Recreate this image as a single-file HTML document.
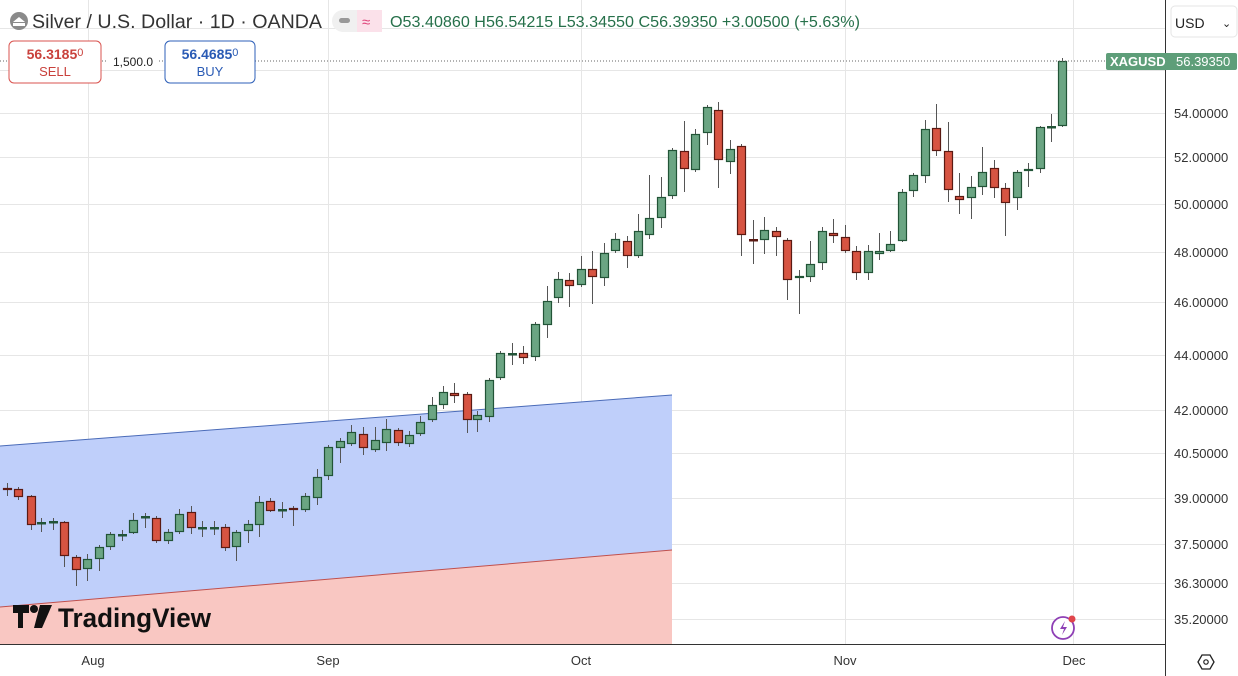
<!DOCTYPE html>
<html><head><meta charset="utf-8"><style>
html,body{margin:0;padding:0;background:#fff;width:1238px;height:676px;overflow:hidden;font-family:"Liberation Sans",sans-serif}
svg{position:absolute;left:0;top:0}
.t{font-family:"Liberation Sans",sans-serif}
</style></head><body>
<svg id="s" width="1238" height="676" xmlns="http://www.w3.org/2000/svg">
<rect width="1238" height="676" fill="#fff"/>
<g id="grid" stroke="#e6e6e6" stroke-width="1"></g>
<polygon points="0,446 672,395 672,550 0,607" fill="#bfcffa"/>
<polygon points="0,607 672,550 672,645 0,645" fill="#f9c7c2"/>
<line x1="0" y1="446" x2="672" y2="395" stroke="#4a6bb8" stroke-width="1"/>
<line x1="0" y1="607" x2="672" y2="550" stroke="#c0504d" stroke-width="1"/>
<g id="c"></g>
<line x1="0" y1="61" x2="1166" y2="61" stroke="#666" stroke-width="1" stroke-dasharray="1,2"/>
<line x1="1165.5" y1="0" x2="1165.5" y2="676" stroke="#333" stroke-width="1"/>
<line x1="0" y1="644.5" x2="1166" y2="644.5" stroke="#333" stroke-width="1"/>
<g id="ax" class="t" font-size="13" fill="#333"></g>
<g class="t" font-size="13" fill="#333" text-anchor="middle">
<text x="93" y="665">Aug</text><text x="328" y="665">Sep</text><text x="581" y="665">Oct</text><text x="845" y="665">Nov</text><text x="1074" y="665">Dec</text>
</g>
<polygon points="1198,662 1202,655 1210,655 1214,662 1210,669 1202,669" fill="none" stroke="#222" stroke-width="1.3"/>
<circle cx="1206" cy="662" r="2.2" fill="none" stroke="#222" stroke-width="1.2"/>
<rect x="1171" y="6" width="66" height="31" rx="4" fill="#fff" stroke="#e5e5e5"/>
<text x="1175" y="28" class="t" font-size="14" fill="#222">USD</text>
<text x="1222" y="27" class="t" font-size="11" fill="#222">⌄</text>
<rect x="1106" y="53" width="131" height="17" rx="2" fill="#5e9e79"/>
<text x="1110" y="66" class="t" font-size="13" font-weight="bold" fill="#fff">XAGUSD</text>
<text x="1176" y="66" class="t" font-size="13" fill="#fff">56.39350</text>
<circle cx="19" cy="21" r="9" fill="#8a8a8a"/>
<path d="M13,22 l6,-5 l6,5 z" fill="#fff"/><rect x="13" y="23" width="12" height="3" fill="#fff"/>
<text x="32" y="28" class="t" font-size="19.5" fill="#333" textLength="290" lengthAdjust="spacingAndGlyphs">Silver / U.S. Dollar · 1D · OANDA</text>
<rect x="332" y="10" width="50" height="22" rx="11" fill="#f0f0f0"/>
<rect x="357" y="10" width="25" height="22" fill="#fbe1ea"/>
<rect x="339" y="18" width="11" height="5" rx="2.5" fill="#999"/>
<text x="362" y="27" class="t" font-size="15" fill="#e0457b">≈</text>
<text x="390" y="27" class="t" font-size="16" fill="#26704a" textLength="470" lengthAdjust="spacingAndGlyphs">O53.40860 H56.54215 L53.34550 C56.39350 +3.00500 (+5.63%)</text>
<rect x="9" y="41" width="92" height="42" rx="5" fill="#fff" stroke="#d9534f"/>
<text x="55" y="59" class="t" font-size="14" font-weight="bold" fill="#c9413c" text-anchor="middle">56.3185<tspan font-size="11" font-weight="normal" dy="-3">0</tspan></text>
<text x="55" y="76" class="t" font-size="13" fill="#c9413c" text-anchor="middle">SELL</text>
<rect x="108" y="52" width="50" height="18" fill="#fff"/>
<text x="133" y="66" class="t" font-size="12" fill="#222" text-anchor="middle">1,500.0</text>
<rect x="165" y="41" width="90" height="42" rx="5" fill="#fff" stroke="#2d5fb8"/>
<text x="210" y="59" class="t" font-size="14" font-weight="bold" fill="#2a5bb5" text-anchor="middle">56.4685<tspan font-size="11" font-weight="normal" dy="-3">0</tspan></text>
<text x="210" y="76" class="t" font-size="13" fill="#2a5bb5" text-anchor="middle">BUY</text>
<g transform="translate(13,605)">
<path d="M0,0 h16 v8 h-6 v15 h-5 v-15 h-5 z" fill="#111"/>
<circle cx="21" cy="4" r="4" fill="#111"/>
<path d="M27,0 h12 l-10,23 h-8 z" fill="#111"/>
</g>
<text x="58" y="627" class="t" font-size="27" font-weight="bold" fill="#111" textLength="153" lengthAdjust="spacingAndGlyphs">TradingView</text>
<circle cx="1063" cy="628" r="11" fill="#fff" stroke="#8e3fb5" stroke-width="1.8"/>
<path d="M1065,621 l-5,8 h4 l-2,6 l5,-8 h-4 z" fill="#8e3fb5"/>
<circle cx="1072" cy="619" r="3.5" fill="#e0454b"/>
</svg>
<script>
const NS="http://www.w3.org/2000/svg";
function el(p,n,a){const e=document.createElementNS(NS,n);for(const k in a)e.setAttribute(k,a[k]);p.appendChild(e);return e;}
const g=document.getElementById('grid');
const ys=[[28,null],[70,"56.00000"],[113,"54.00000"],[157,"52.00000"],[204,"50.00000"],[252,"48.00000"],[302,"46.00000"],[355,"44.00000"],[410,"42.00000"],[453,"40.50000"],[498,"39.00000"],[544,"37.50000"],[583,"36.30000"],[619,"35.20000"]];
const ax=document.getElementById('ax');
ys.forEach(([y,l])=>{el(g,'line',{x1:0,y1:y+.5,x2:1166,y2:y+.5});if(l&&y!=70){const t=el(ax,'text',{x:1174,y:y+5});t.textContent=l;}});
[88,328,581,845,1073].forEach(x=>el(g,'line',{x1:x+.5,y1:0,x2:x+.5,y2:644}));
const D=[
[7,488,490,483,496,0],[18,489,497,487,500,0],[31,496,525,495,530,0],[41,523,523,518,532,1],[53,522,522,518,530,1],
[64,522,556,521,567,0],[76,557,570,555,586,0],[87,559,569,554,581,1],[99,547,559,545,571,1],[110,534,547,532,550,1],
[122,535,535,530,541,1],[133,520,533,513,534,1],[145,517,517,513,528,1],[156,518,541,516,543,0],[168,532,541,529,544,1],
[179,514,532,509,534,1],[191,512,528,506,534,0],[202,528,528,521,537,1],[214,528,528,521,535,1],[225,527,548,524,551,0],
[236,532,547,530,561,1],[248,524,531,520,543,1],[259,502,525,496,537,1],[270,501,511,498,512,0],[282,510,510,502,518,1],
[293,508,510,506,526,0],[305,496,510,493,512,1],[317,477,498,469,505,1],[328,447,476,445,480,1],[340,441,448,438,463,1],
[351,432,444,425,446,1],[363,434,448,427,455,0],[375,440,450,427,452,1],[386,429,443,419,451,1],[398,430,443,428,446,0],
[409,435,444,431,447,1],[420,422,434,416,436,1],[432,405,420,397,422,1],[443,392,405,386,409,1],[454,393,396,383,403,0],
[467,394,420,392,433,0],[477,415,420,411,432,1],[489,380,417,378,422,1],[500,353,378,351,380,1],[512,354,354,343,365,1],
[523,353,358,346,364,0],[535,324,357,322,361,1],[547,301,325,286,338,1],[558,279,298,272,303,1],[569,280,286,273,307,0],
[581,269,285,256,287,1],[592,269,277,251,304,0],[604,253,278,243,286,1],[615,239,251,233,253,1],[627,241,256,236,268,0],
[638,231,256,214,258,1],[649,218,235,175,239,1],[661,197,218,177,228,1],[672,150,196,148,199,1],[684,151,169,121,192,0],
[695,134,170,129,172,1],[707,107,133,105,145,1],[718,110,160,102,188,0],[730,149,162,140,174,1],[741,146,235,144,256,0],
[753,240,240,220,264,0],[764,230,240,217,254,1],[776,231,237,227,256,0],[787,240,280,238,300,0],[799,276,278,270,314,1],
[810,264,277,241,282,1],[822,231,263,227,270,1],[833,233,236,219,243,0],[845,237,251,225,253,0],[856,251,273,246,280,0],
[868,251,273,245,280,1],[879,251,254,233,260,1],[890,244,251,231,252,1],[902,192,241,189,242,1],[913,175,191,173,197,1],
[925,129,176,120,183,1],[936,128,151,104,156,0],[948,151,190,122,202,0],[959,196,200,173,214,0],[971,187,198,176,219,1],
[982,172,187,147,195,1],[994,168,188,160,198,0],[1005,188,203,183,236,0],[1017,172,198,170,210,1],[1028,169,171,163,187,1],
[1040,127,169,126,173,1],[1051,127,127,114,142,1],[1062,61,126,58,127,1]];
const c=document.getElementById('c');
D.forEach(([x,t,b,h,l,gr])=>{
 const fill=gr?'#6ba583':'#d75442', st=gr?'#225437':'#5b1a13';
 el(c,'line',{x1:x+.5,y1:h,x2:x+.5,y2:l,stroke:'#555',"stroke-width":1});
 if(b-t<2){el(c,'rect',{x:x-4,y:t-1,width:9,height:2.5,fill:st});}
 else el(c,'rect',{x:x-3.5,y:t+.5,width:8,height:b-t-1,fill:fill,stroke:st,"stroke-width":1.2});
});
</script>
</body></html>
